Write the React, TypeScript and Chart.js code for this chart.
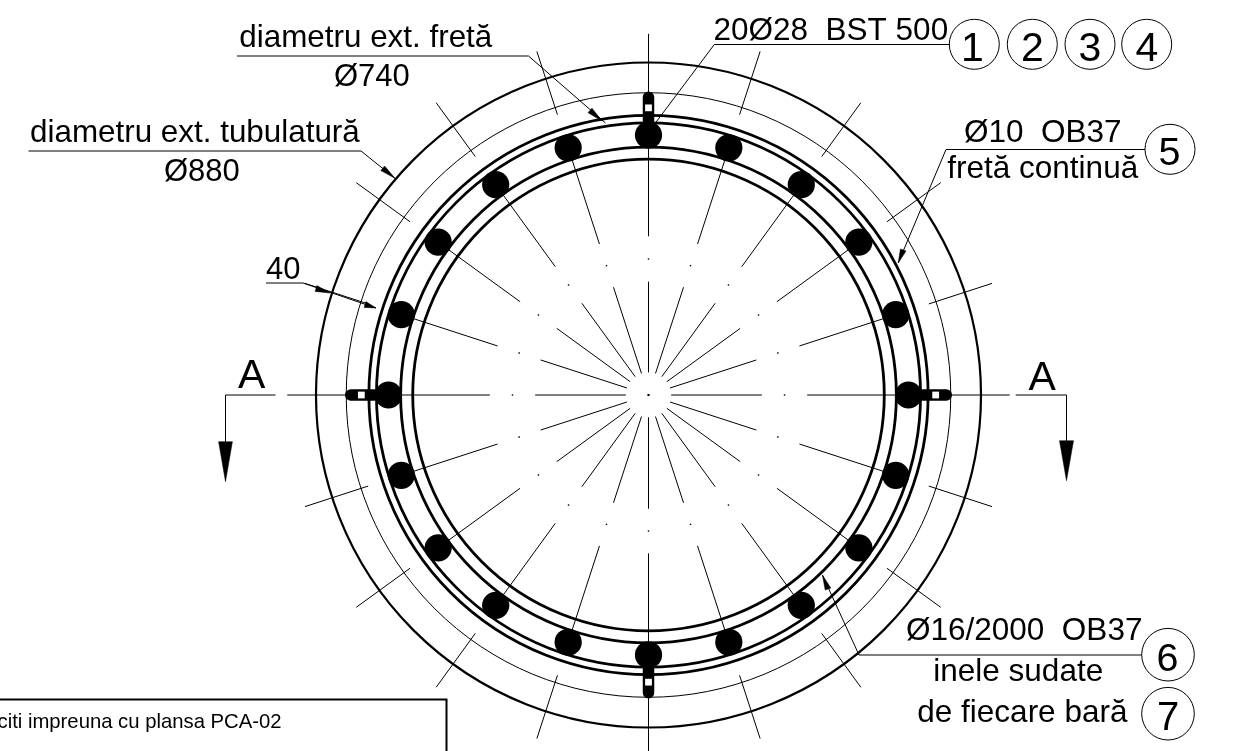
import React, { useEffect, useRef } from "react";
import Chart from "chart.js/auto";

const WIDTH = 1236;
const HEIGHT = 751;
const PX_PER_MM = 0.7557;
const CENTER_PX = [648.5, 395];

// Drawing geometry, in millimetres, read from the section
const ringDiameters = [880, 800, 740, 720, 656, 624];
const ringWidths = [2.2, 1, 2.8, 2.8, 2.8, 2.8];
const barCircleRadius = 344;
const barAngles = [0, 18, 36, 54, 72, 90, 108, 126, 144, 162, 180, 198, 216, 234, 252, 270, 288, 306, 324, 342];
const barDiameter = 36;
const spokeAngles = [0, 18, 36, 54, 72, 90, 108, 126, 144, 162, 180, 198, 216, 234, 252, 270, 288, 306, 324, 342];
const spokeRanges = [[30, 150], [210, 344], [390, 478]];
const spokeDotRadius = 180;
const spacerAngles = [0, 90, 180, 270];
const spacerRange = [394, 363];
const spacerHoleRadius = 380;

// Annotation geometry, on the sheet grid
const leaderLines = [
  [[237, 56], [528.5, 56], [605.5, 123]],
  [[28.5, 151], [361, 151], [395, 178.3]],
  [[266, 283], [303, 283], [376, 308]],
  [[950, 44.5], [714.3, 44.5], [655.4, 123]],
  [[1145, 149.5], [946, 149.5], [898.2, 263]],
  [[1141.7, 655], [859, 655], [822.4, 575]],
  [[225.5, 442], [225.5, 395], [275.5, 395]],
  [[1015.7, 395], [1066.5, 395], [1066.5, 442]],
];
const arrowHeads = [
  [[602, 121], [588, 112.65], [592, 108.15]],
  [[395, 178.3], [380.8, 170.6], [384.6, 166]],
  [[330, 293], [315.1, 291.4], [316.9, 285.6]],
  [[376, 308], [364.1, 307.4], [365.9, 301.6]],
  [[898.2, 263], [906, 251], [900.4, 249]],
  [[822.4, 575], [830.8, 588], [825.2, 590]],
  [[225.5, 481.7], [218.6, 441.7], [232.4, 441.7]],
  [[1066.5, 480.7], [1059.5, 440.7], [1073.5, 440.7]],
];
const noteBox = [[-5, 699.5], [446.5, 699.5], [446.5, 760]];
const balloonCenters = [
  [974.3, 44.3], [1032.3, 44.3], [1090, 44.3], [1146.7, 44.3], [1170, 149.3], [1168, 654.7], [1168, 713.7],
];
const balloonRadii = [25, 25, 25, 25, 25, 26.3, 26.3];

const labelTexts = [
  "diametru ext. fretă", "Ø740", "diametru ext. tubulatură", "Ø880", "40", "A", "A",
  "20Ø28  BST 500", "Ø10  OB37", "fretă continuă", "Ø16/2000  OB37", "inele sudate", "de fiecare bară",
  "1", "2", "3", "4", "5", "6", "7",
  "citi impreuna cu plansa PCA-02",
];
const labelX = [239.3, 334, 30, 164, 266, 238, 1028.6, 713.5, 964, 947.3, 906, 933.3, 917.3, 972.5, 1032.3, 1090, 1147, 1169.5, 1167.5, 1168, -2.5];
const labelY = [46.7, 86, 141.7, 180.7, 278.7, 388, 390, 40, 141.7, 178.3, 640, 681, 721.7, 61, 61, 61, 61, 165, 671, 730, 728];
const labelSizes = [31.4, 31, 31.4, 31, 31, 41, 41, 31.5, 31.5, 31.5, 31.5, 31.5, 31.5, 41, 41, 41, 41, 39.5, 39.5, 40, 20.3];

const polar = (angle: number, r: number) => ({
  x: r * Math.sin((angle * Math.PI) / 180),
  y: r * Math.cos((angle * Math.PI) / 180),
});
const gap = { x: NaN, y: NaN };
const pts = (list: number[][]) => list.map(([x, y]) => ({ x, y }));

const labelsPlugin = {
  id: "sheetLabels",
  afterDatasetsDraw(chart: any) {
    const { ctx, scales } = chart;
    ctx.save();
    ctx.fillStyle = "#000";
    ctx.textBaseline = "alphabetic";
    labelTexts.forEach((t, i) => {
      const isDigit = /^[1-7]$/.test(t);
      ctx.textAlign = isDigit ? "center" : "left";
      ctx.font = `${labelSizes[i]}px "Liberation Sans"`;
      ctx.fillText(t, scales.px.getPixelForValue(labelX[i]), scales.py.getPixelForValue(labelY[i]));
    });
    ctx.restore();
  },
};

export default function App() {
  const ref = useRef<HTMLCanvasElement>(null);
  useEffect(() => {
    const mmPx = (c: any, mm: number) => Math.abs(c.chart.scales.x.getPixelForValue(mm) - c.chart.scales.x.getPixelForValue(0));
    const spokes: any[] = [];
    spokeAngles.forEach((a) => spokeRanges.forEach(([r1, r2]) => spokes.push(polar(a, r1), polar(a, r2), gap)));
    const spacers: any[] = [];
    spacerAngles.forEach((a) => spacers.push(polar(a, spacerRange[0]), polar(a, spacerRange[1]), gap));
    const line = { showLine: true, pointRadius: 0, borderColor: "#000", borderWidth: 1, fill: false };
    const px = { xAxisID: "px", yAxisID: "py" };

    const chart = new Chart(ref.current!, {
      type: "scatter",
      data: {
        datasets: [
          {
            label: "spacer holes",
            data: spacerAngles.map((a) => polar(a, spacerHoleRadius)),
            pointStyle: "rect",
            pointRadius: 4.8,
            pointBackgroundColor: "#fff",
            pointBorderWidth: 0,
          },
          {
            label: "spacers",
            ...line,
            data: spacers,
            borderWidth: 11.5,
            borderCapStyle: "round",
          },
          {
            label: "bars",
            data: barAngles.map((a) => polar(a, barCircleRadius)),
            pointRadius: (c: any) => mmPx(c, barDiameter / 2),
            pointBackgroundColor: "#000",
            pointBorderWidth: 0,
          },
          {
            label: "rings",
            data: ringDiameters.map(() => ({ x: 0, y: 0 })),
            pointRadius: (c: any) => mmPx(c, ringDiameters[c.dataIndex] / 2),
            pointBackgroundColor: "transparent",
            pointBorderColor: "#000",
            pointBorderWidth: (c: any) => ringWidths[c.dataIndex],
          },
          {
            label: "spoke dots",
            data: [...spokeAngles.map((a) => polar(a, spokeDotRadius))],
            pointStyle: "rect",
            pointRadius: 1,
            pointBackgroundColor: "#000",
            pointBorderWidth: 0,
          },
          {
            label: "centre",
            data: [{ x: 0, y: 0 }],
            pointStyle: "rect",
            pointRadius: 1.5,
            pointBackgroundColor: "#000",
            pointBorderWidth: 0,
          },
          { label: "spokes", ...line, data: spokes },
          ...leaderLines.map((l, i) => ({ label: `leader ${i}`, ...line, ...px, data: pts(l) })),
          ...arrowHeads.map((a, i) => ({
            label: `arrow ${i}`,
            ...line,
            ...px,
            data: pts([...a, a[0]]),
            borderWidth: 0.5,
            backgroundColor: "#000",
            fill: "shape",
          })),
          {
            label: "balloons",
            ...px,
            data: pts(balloonCenters),
            pointRadius: balloonRadii,
            pointBackgroundColor: "transparent",
            pointBorderColor: "#000",
            pointBorderWidth: 1,
          },
          { label: "note box", ...line, ...px, data: pts(noteBox), borderWidth: 2 },
        ] as any,
      },
      options: {
        animation: false,
        responsive: false,
        events: [],
        layout: { padding: 0, autoPadding: false },
        plugins: { legend: { display: false }, tooltip: { enabled: false } },
        scales: {
          x: { type: "linear", display: false, min: -CENTER_PX[0] / PX_PER_MM, max: (WIDTH - CENTER_PX[0]) / PX_PER_MM },
          y: { type: "linear", display: false, min: -(HEIGHT - CENTER_PX[1]) / PX_PER_MM, max: CENTER_PX[1] / PX_PER_MM },
          px: { type: "linear", axis: "x", display: false, min: 0, max: WIDTH },
          py: { type: "linear", axis: "y", display: false, min: 0, max: HEIGHT, reverse: true },
        },
      } as any,
      plugins: [labelsPlugin],
    });
    return () => chart.destroy();
  }, []);
  return (
    <div style={{ position: "fixed", left: 0, top: 0, width: WIDTH, height: HEIGHT, background: "#fff" }}>
      <canvas ref={ref} width={WIDTH} height={HEIGHT} style={{ display: "block" }} />
    </div>
  );
}
